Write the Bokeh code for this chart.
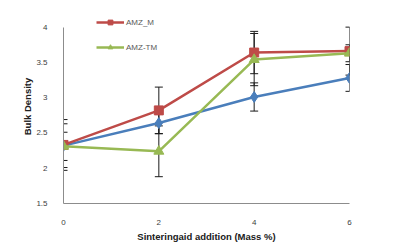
from bokeh.plotting import figure
from bokeh.models import Range1d, FixedTicker, Legend, LegendItem, Whisker, ColumnDataSource, TeeHead
from bokeh.embed import file_html
from bokeh.resources import INLINE

# Sintering aid addition (mass %)
mass = [0, 2, 4, 6]

# Bulk density per composition
amz = [2.32, 2.64, 3.01, 3.28]
amz_m = [2.33, 2.82, 3.64, 3.66]
amz_tm = [2.31, 2.24, 3.54, 3.63]

# Error bar half-widths
amz_err = [0.31, 0.15, 0.20, 0.19]
amz_m_err = [0.36, 0.33, 0.30, 0.34]
amz_tm_err = [0.20, 0.36, 0.37, 0.12]

y_ticks = [1.5, 2, 2.5, 3, 3.5, 4]
x_ticks = [0, 2, 4, 6]

FONT = "Liberation Sans"

# y range runs a little past 4 so the legend has room above the data;
# the axis line itself stops at 4
p = figure(width=409, height=244, output_backend="svg", toolbar_location=None,
           x_range=Range1d(0, 6), y_range=Range1d(1.5, 4.25))
p.min_border_left = 63
p.min_border_right = 60
p.min_border_top = 9
p.min_border_bottom = 41
p.outline_line_color = None
p.grid.visible = False
p.background_fill_color = "white"
p.border_fill_color = "white"

for ax in (p.xaxis[0], p.yaxis[0]):
    ax.axis_line_color = "#8c8c8c"
    ax.axis_line_width = 1
    ax.major_tick_line_color = None
    ax.minor_tick_line_color = None
    ax.major_label_text_font = FONT
    ax.major_label_text_font_size = "8px"
    ax.major_label_text_color = "#404040"
    ax.axis_label_text_font = FONT
    ax.axis_label_text_font_style = "bold"
    ax.axis_label_text_font_size = "9.5px"
    ax.axis_label_text_color = "#202020"

p.yaxis.bounds = (1.5, 4)
p.xaxis.ticker = FixedTicker(ticks=x_ticks)
p.yaxis.ticker = FixedTicker(ticks=y_ticks)
p.xaxis.major_label_standoff = 10
p.yaxis.major_label_standoff = 10
p.xaxis.axis_label = "Sinteringaid addition (Mass %)"
p.yaxis.axis_label = "Bulk Density"
p.xaxis.axis_label_standoff = 3
p.yaxis.axis_label_standoff = 0

series = [
    (amz, amz_err, "#4a7ebb", "diamond", 11, None),
    (amz_m, amz_m_err, "#be4b48", "square", 9, "AMZ_M"),
    (amz_tm, amz_tm_err, "#98b954", "triangle", 10, "AMZ-TM"),
]

items = []
for vals, err, color, marker, size, name in series:
    src = ColumnDataSource(dict(
        x=mass, y=vals,
        lo=[v - e for v, e in zip(vals, err)],
        hi=[v + e for v, e in zip(vals, err)],
    ))
    w = Whisker(base="x", lower="lo", upper="hi", source=src,
                line_color="#1a1a1a", line_width=1, level="underlay",
                upper_head=TeeHead(size=8, line_color="#1a1a1a", line_width=1),
                lower_head=TeeHead(size=8, line_color="#1a1a1a", line_width=1))
    p.add_layout(w)
for vals, err, color, marker, size, name in series:
    src = ColumnDataSource(dict(x=mass, y=vals))
    ln = p.line("x", "y", source=src, line_color=color, line_width=2.5)
    mk = p.scatter("x", "y", source=src, marker=marker, size=size,
                   fill_color=color, line_color=color)
    if name:
        items.append(LegendItem(label=name, renderers=[ln, mk]))

legend = Legend(items=items, location=(33, 150), orientation="vertical",
                border_line_color=None, background_fill_alpha=0,
                label_text_font=FONT, label_text_font_size="8px",
                label_text_color="#595959", glyph_width=28, glyph_height=12,
                label_standoff=2, spacing=13, padding=0, margin=0)
p.add_layout(legend)

open("out.html", "w").write(file_html(p, INLINE))
